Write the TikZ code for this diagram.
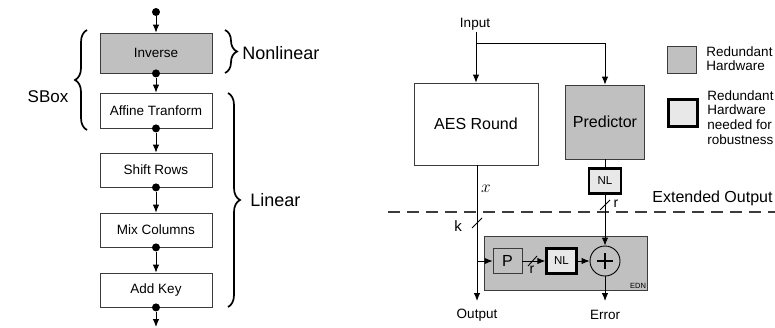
\documentclass[tikz,border=0pt]{standalone}
\usepackage{fontspec}
\setmainfont{Liberation Sans}
\usetikzlibrary{arrows.meta,decorations.pathreplacing}

\definecolor{hwgray}{RGB}{192,192,192}
\definecolor{hwlight}{RGB}{232,232,232}
\definecolor{edge}{RGB}{60,60,60}

\newcommand{\fs}[1]{\fontsize{#1}{#1}\selectfont}

\begin{document}
\begin{tikzpicture}[
  x=1pt, y=-1pt,
  line width=0.9pt,
  arr/.style={-{Latex[length=8pt,width=6.5pt]}},
  stage/.style={draw=edge, line width=0.8pt, minimum width=112pt, inner sep=0pt, font=\fs{13.5}},
  block/.style={draw=edge, line width=0.8pt, inner sep=0pt, font=\fs{16}},
  nlbox/.style={draw=black, line width=2.4pt, fill=hwlight, inner sep=0pt, font=\fs{11.5}},
  dot/.style={circle, fill=black, inner sep=0pt, minimum size=8pt},
  brc/.style={decorate, decoration={brace, amplitude=12pt}, line width=1.7pt},
  lbl/.style={inner sep=0pt, font=\fs{13.5}},
  bits/.style={line width=0.9pt}
]
\useasboundingbox (0,0) rectangle (775,327);

% ---------- AES round stages ----------
\node[stage, fill=hwgray, minimum height=40pt] (inv) at (156,53) {Inverse};
\node[stage, minimum height=35pt] (aff) at (156,110.5) {Affine Tranform};
\node[stage, minimum height=34pt] (shr) at (156,170) {Shift Rows};
\node[stage, minimum height=34pt] (mix) at (156,230) {Mix Columns};
\node[stage, minimum height=34pt] (ak)  at (156,290) {Add Key};

\node[dot] (d0) at (156,12) {};
\node[dot] (d1) at (inv.south) {};
\node[dot] (d2) at (aff.south) {};
\node[dot] (d3) at (shr.south) {};
\node[dot] (d4) at (mix.south) {};
\node[dot] (d5) at (ak.south) {};
\coordinate (dout) at (156,327);

\draw[arr] (d0) -- (inv.north);
\draw[arr] (d1) -- (aff.north);
\draw[arr] (d2) -- (shr.north);
\draw[arr] (d3) -- (mix.north);
\draw[arr] (d4) -- (ak.north);
\draw[arr] (d5) -- (dout);

% braces and their labels
\draw[brc] (87,130) -- (87,30);
\node[inner sep=0pt, font=\fs{17}] (sbox) at (48,97) {SBox};
\draw[brc] (225,30) -- (225,73);
\node[anchor=west, inner sep=0pt, font=\fs{18}] (nonlin) at (242,53) {Nonlinear};
\draw[brc] (228,93) -- (228,307);
\node[anchor=west, inner sep=0pt, font=\fs{18}] (lin) at (250,200) {Linear};

% ---------- Error detection scheme ----------
\node[lbl] (in) at (475,24) {Input};
\coordinate (inS) at (476,32);
\coordinate (split) at (476,43);
\coordinate (corner) at (605,43);

\node[block, minimum width=124pt, minimum height=82pt] (aes) at (476,124) {AES Round};
\node[block, fill=hwgray, minimum width=79pt, minimum height=74pt] (pred) at (605,122) {Predictor};
\node[nlbox, minimum width=32pt, minimum height=25pt] (nl1) at (605,181) {NL};

\draw[arr] (inS) -- (aes.north);
\draw[arr] (split) -- (corner) -- (pred.north);
\draw (pred.south) -- (nl1.north);

% extended output boundary
\draw[edge, line width=1.4pt, dash pattern=on 12pt off 7pt] (388,212) -- (775,212);
\node[anchor=west, inner sep=0pt, font=\fs{16}] (ext) at (652,198) {Extended Output};

% EDN block
\node[draw=edge, line width=0.8pt, fill=hwgray, minimum width=163pt, minimum height=54pt, inner sep=0pt] (edn) at (565.5,263) {};
\node[anchor=south east, inner sep=1pt, font=\fs{7.5}] (ednl) at (edn.south east) {EDN};
\node[block, fill=hwgray, minimum width=29pt, minimum height=25pt] (p) at (507.5,261) {P};
\node[nlbox, minimum width=30pt, minimum height=25pt] (nl2) at (561.5,261) {NL};
\node[draw=black, line width=0.9pt, circle, minimum size=30pt, inner sep=0pt] (xor) at (605,261) {};
\draw[line width=2.6pt] ([xshift=-8pt]xor.center) -- ([xshift=8pt]xor.center)
                        ([yshift=-8pt]xor.center) -- ([yshift=8pt]xor.center);

\coordinate (tap) at (477,261);
\node[lbl] (outl) at (477,315) {Output};
\node[lbl] (errl) at (605,315) {Error};
\coordinate (outA) at (477,301);
\coordinate (errA) at (605,301);

\draw[arr] (aes.south -| tap) -- (outA);
\draw[arr] (tap) -- (p.west);
\draw[arr] (p.east) -- (nl2.west);
\draw[arr] (nl2.east) -- (xor.west);
\draw[arr] (nl1.south) -- (xor.north);
\draw[arr] (xor.south) -- (errA);

% bus widths
\draw[bits] (472,228) -- (482,218);
\node[lbl, font=\fs{15}] (kl) at (458,226) {k};
\draw[bits] (600,210) -- (610,200);
\node[lbl, font=\fs{14}] (r1) at (616,204) {r};
\draw[bits] (528,266) -- (537,256);
\node[lbl, font=\fs{14}] (r2) at (532,270) {r};
\node[inner sep=0pt, font=\fs{19}] (xl) at (486,189) {$x$};

% legend
\node[draw=edge, line width=0.8pt, fill=hwgray, minimum width=29pt, minimum height=27pt, inner sep=0pt] (leg1) at (681.5,59.5) {};
\node[anchor=west, align=left, inner sep=0pt, font=\fontsize{13.5}{14}\selectfont] (leg1t) at (706,59) {Redundant\\Hardware};
\node[nlbox, minimum width=29pt, minimum height=27pt] (leg2) at (683,113) {};
\node[anchor=north west, align=left, inner sep=0pt, font=\fontsize{13.5}{14.7}\selectfont] (leg2t) at (707,90) {Redundant\\Hardware\\needed for\\robustness};
\end{tikzpicture}
\end{document}
